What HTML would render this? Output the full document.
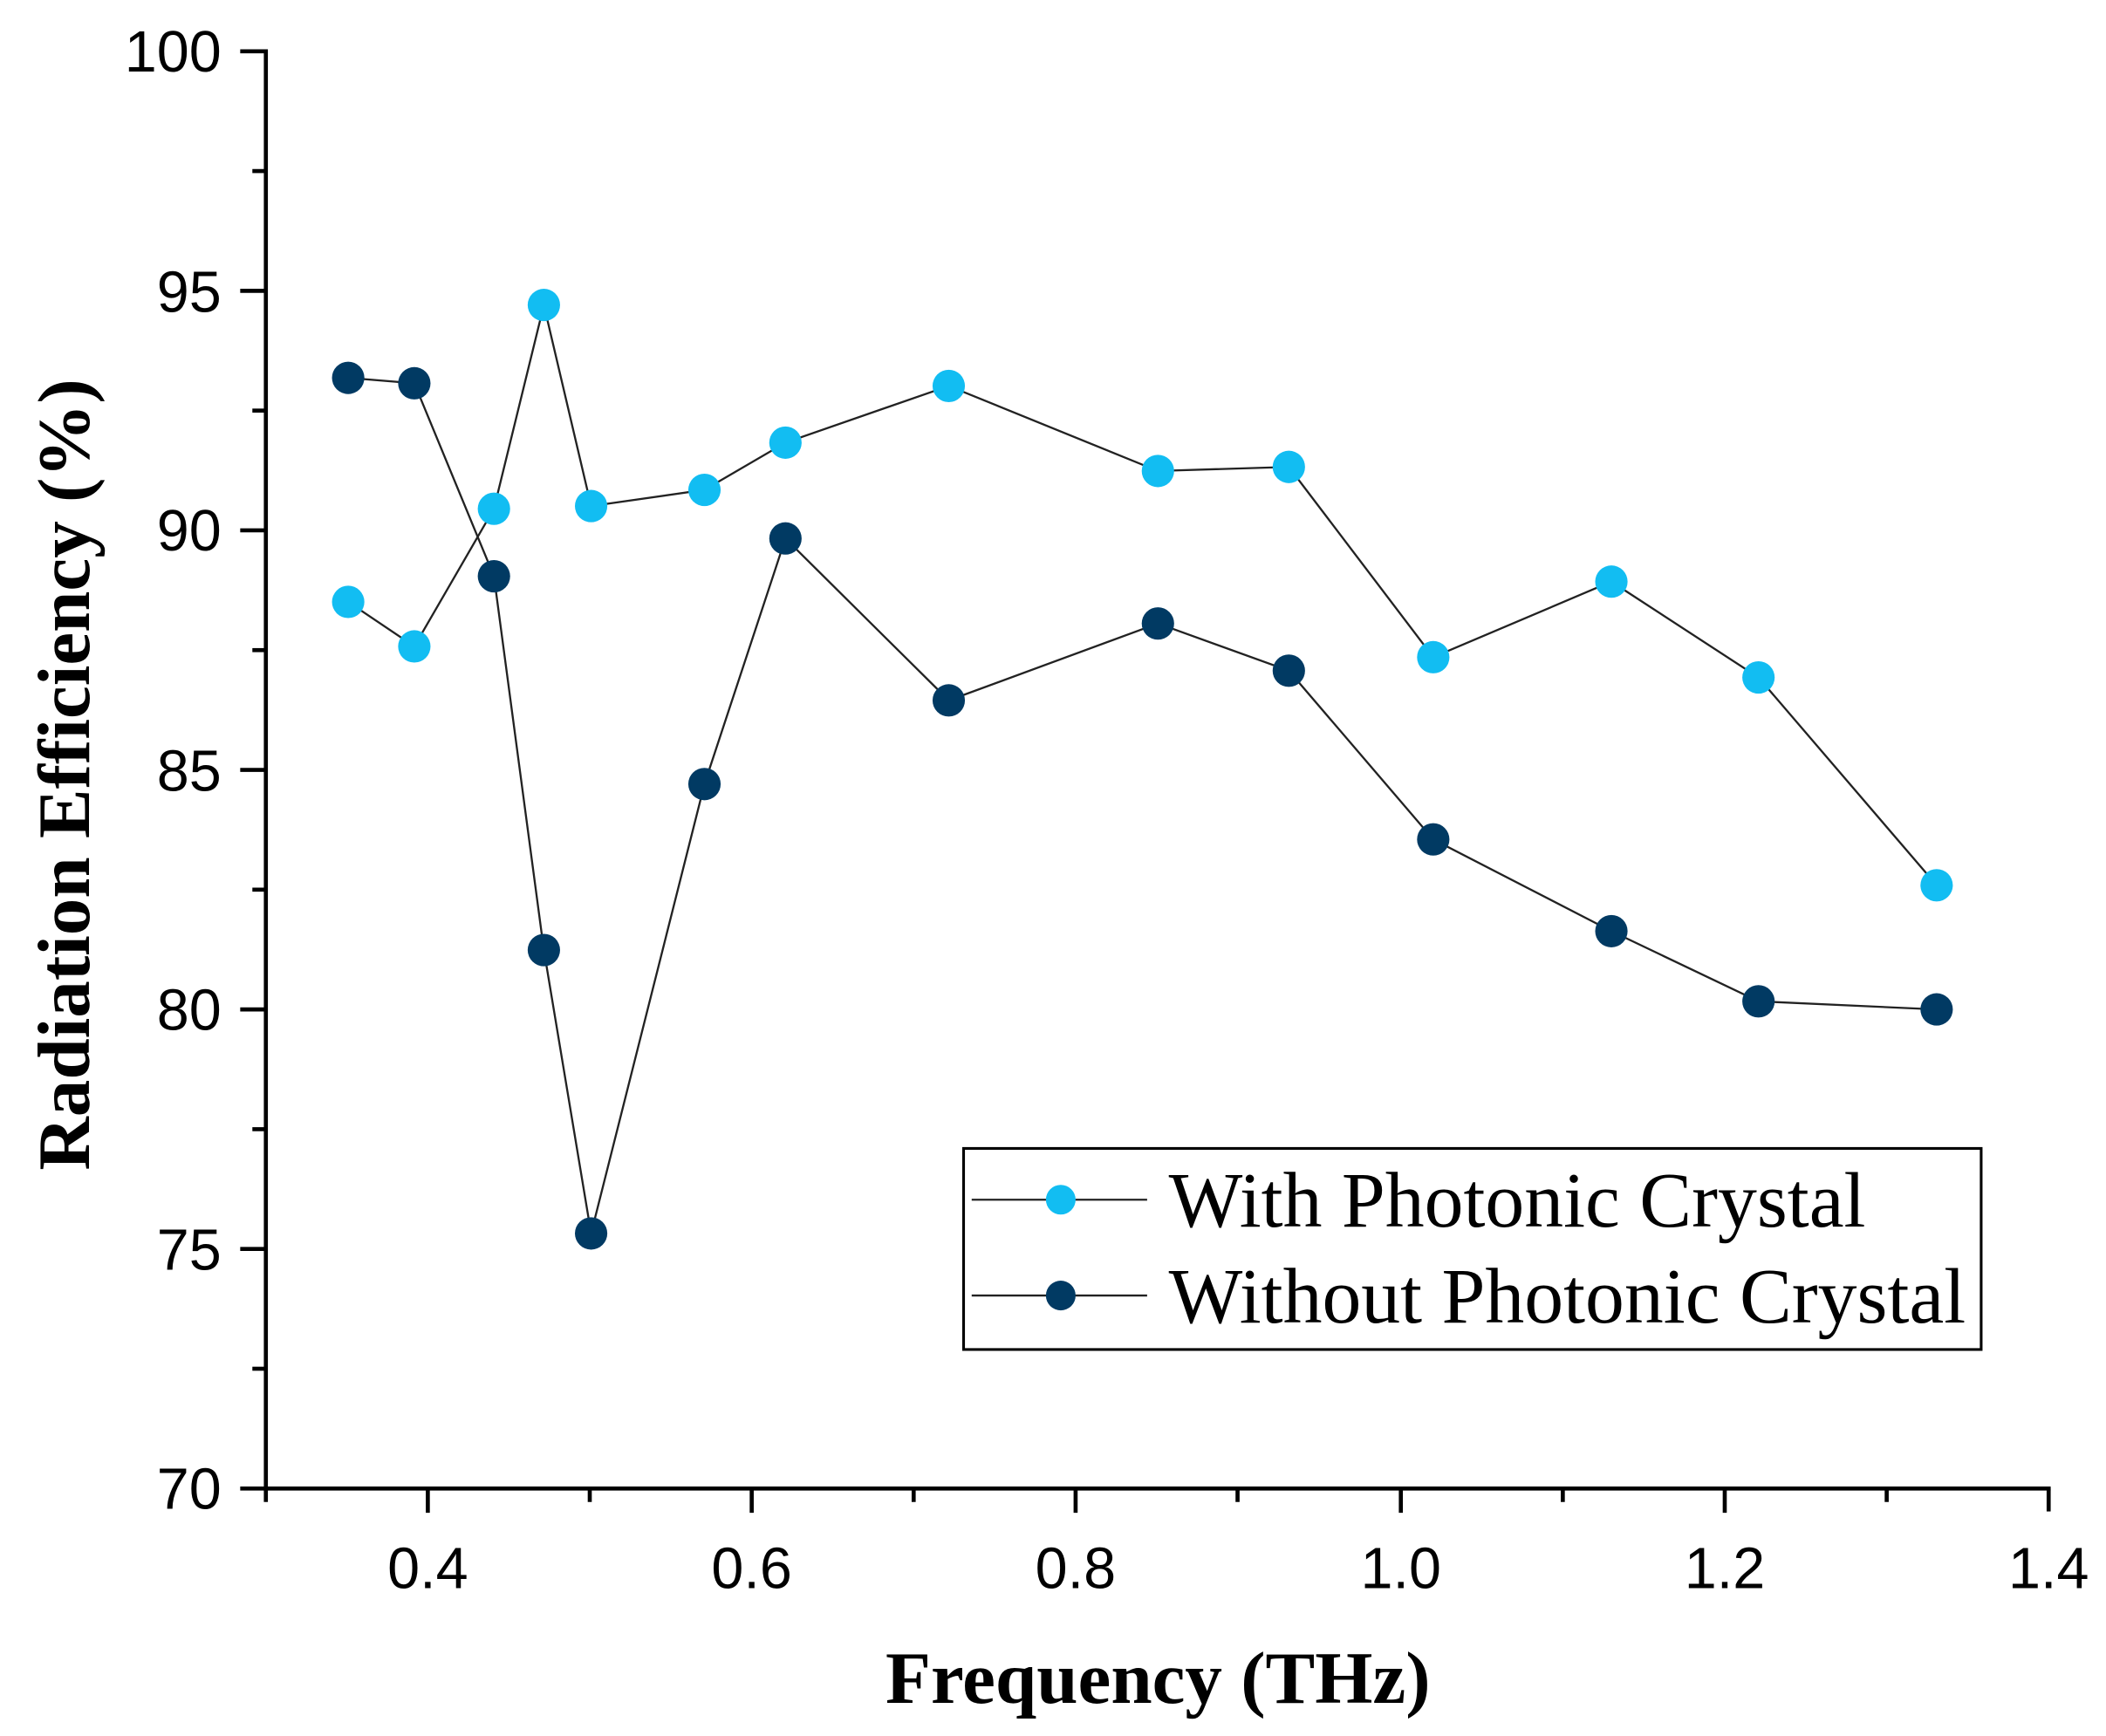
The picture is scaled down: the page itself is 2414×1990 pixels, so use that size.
<!DOCTYPE html>
<html><head><style>html,body{margin:0;padding:0;background:#fff}svg{display:block}</style></head>
<body>
<svg xmlns="http://www.w3.org/2000/svg" width="2414" height="1990" viewBox="0 0 1560.5 1286.4">
<rect width="1560.5" height="1286.4" fill="#fff"/>
<g stroke="#000" stroke-width="3" fill="none">
<line x1="197" y1="36.5" x2="197" y2="1104.5"/>
<line x1="195.5" y1="1103" x2="1519.5" y2="1103"/>
<line x1="1518" y1="1103" x2="1518" y2="1120"/>
<line x1="178" y1="38" x2="197" y2="38"/>
<line x1="178" y1="215.5" x2="197" y2="215.5"/>
<line x1="178" y1="393" x2="197" y2="393"/>
<line x1="178" y1="570.5" x2="197" y2="570.5"/>
<line x1="178" y1="748" x2="197" y2="748"/>
<line x1="178" y1="925.5" x2="197" y2="925.5"/>
<line x1="178" y1="1103" x2="197" y2="1103"/>
<line x1="187" y1="126.75" x2="197" y2="126.75"/>
<line x1="187" y1="304.25" x2="197" y2="304.25"/>
<line x1="187" y1="481.75" x2="197" y2="481.75"/>
<line x1="187" y1="659.25" x2="197" y2="659.25"/>
<line x1="187" y1="836.75" x2="197" y2="836.75"/>
<line x1="187" y1="1014.25" x2="197" y2="1014.25"/>
<line x1="197" y1="1103" x2="197" y2="1113"/>
<line x1="317" y1="1103" x2="317" y2="1121"/>
<line x1="437" y1="1103" x2="437" y2="1113"/>
<line x1="557" y1="1103" x2="557" y2="1121"/>
<line x1="677" y1="1103" x2="677" y2="1113"/>
<line x1="797" y1="1103" x2="797" y2="1121"/>
<line x1="917" y1="1103" x2="917" y2="1113"/>
<line x1="1038" y1="1103" x2="1038" y2="1121"/>
<line x1="1158" y1="1103" x2="1158" y2="1113"/>
<line x1="1278" y1="1103" x2="1278" y2="1121"/>
<line x1="1398" y1="1103" x2="1398" y2="1113"/>
</g>
<g font-family="Liberation Sans, Arial, sans-serif" font-size="43" fill="#000">
<g text-anchor="end">
<text x="164" y="53">100</text>
<text x="164" y="231">95</text>
<text x="164" y="408">90</text>
<text x="164" y="586">85</text>
<text x="164" y="763">80</text>
<text x="164" y="941">75</text>
<text x="164" y="1118">70</text>
</g>
<g text-anchor="middle">
<text x="317" y="1177">0.4</text>
<text x="557" y="1177">0.6</text>
<text x="797" y="1177">0.8</text>
<text x="1038" y="1177">1.0</text>
<text x="1278" y="1177">1.2</text>
<text x="1518" y="1177">1.4</text>
</g>
</g>
<text x="858" y="1262" text-anchor="middle" font-family="Liberation Serif, serif" font-weight="bold" font-size="55">Frequency (THz)</text>
<text transform="translate(66,574) rotate(-90)" text-anchor="middle" font-family="Liberation Serif, serif" font-weight="bold" font-size="55">Radiation Efficiency (%)</text>
<polyline fill="none" stroke="#222" stroke-width="1.5" points="258,446 307,479 366,377 403,226 438,375 522,363 582,328 703,286 858,349 955,346 1062,487 1194,431 1303,502 1435,656"/>
<polyline fill="none" stroke="#222" stroke-width="1.5" points="258,280 307,284 366,427 403,704 438,914 522,581 582,399 703,519 858,462 955,497 1062,622 1194,690 1303,742 1435,748"/>
<g fill="#12bdf2">
<circle cx="258" cy="446" r="12"/><circle cx="307" cy="479" r="12"/><circle cx="366" cy="377" r="12"/><circle cx="403" cy="226" r="12"/><circle cx="438" cy="375" r="12"/><circle cx="522" cy="363" r="12"/><circle cx="582" cy="328" r="12"/><circle cx="703" cy="286" r="12"/><circle cx="858" cy="349" r="12"/><circle cx="955" cy="346" r="12"/><circle cx="1062" cy="487" r="12"/><circle cx="1194" cy="431" r="12"/><circle cx="1303" cy="502" r="12"/><circle cx="1435" cy="656" r="12"/>
</g>
<g fill="#013a63">
<circle cx="258" cy="280" r="12"/><circle cx="307" cy="284" r="12"/><circle cx="366" cy="427" r="12"/><circle cx="403" cy="704" r="12"/><circle cx="438" cy="914" r="12"/><circle cx="522" cy="581" r="12"/><circle cx="582" cy="399" r="12"/><circle cx="703" cy="519" r="12"/><circle cx="858" cy="462" r="12"/><circle cx="955" cy="497" r="12"/><circle cx="1062" cy="622" r="12"/><circle cx="1194" cy="690" r="12"/><circle cx="1303" cy="742" r="12"/><circle cx="1435" cy="748" r="12"/>
</g>
<rect x="714" y="851" width="754" height="149" fill="#fff" stroke="#000" stroke-width="2"/>
<line x1="720" y1="889" x2="850" y2="889" stroke="#222" stroke-width="1.5"/>
<line x1="720" y1="960" x2="850" y2="960" stroke="#222" stroke-width="1.5"/>
<circle cx="786" cy="889" r="11" fill="#12bdf2"/>
<circle cx="786" cy="960" r="11" fill="#013a63"/>
<g font-family="Liberation Serif, serif" font-size="58" fill="#000">
<text x="866" y="909">With Photonic Crystal</text>
<text x="866" y="980">Without Photonic Crystal</text>
</g>
</svg>
</body></html>
